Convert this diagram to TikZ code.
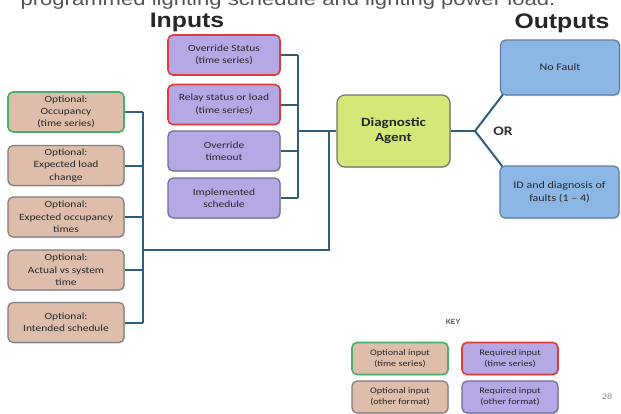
\documentclass[tikz,border=0pt]{standalone}
\usepackage{fontspec}
\setmainfont[FakeStretch=1.2]{Carlito}
\newfontfamily\headfont[FakeStretch=1.18]{Liberation Sans}
\usetikzlibrary{calc,shadows}
\definecolor{optfill}{RGB}{222,190,170}
\definecolor{reqfill}{RGB}{182,168,228}
\definecolor{agentfill}{RGB}{212,232,120}
\definecolor{outfill}{RGB}{140,182,228}
\definecolor{greyline}{RGB}{125,125,130}
\definecolor{greenline}{RGB}{70,175,110}
\definecolor{redline}{RGB}{222,60,60}
\definecolor{purpleline}{RGB}{110,110,150}
\definecolor{outline}{RGB}{95,125,165}
\definecolor{wire}{RGB}{45,95,125}
\definecolor{toptext}{RGB}{85,85,85}
\tikzset{
  boxbase/.style={rounded corners=5pt, align=center, inner sep=1pt,
    font=\fontsize{9.5}{12.3}\selectfont, text=black!85,
    drop shadow={shadow xshift=1pt, shadow yshift=-1pt, opacity=0.25}},
  optbox/.style={boxbase, fill=optfill, draw=greyline, line width=1.2pt,
    minimum width=116pt, minimum height=40pt},
  optts/.style={optbox, draw=greenline, line width=1.6pt},
  reqbox/.style={boxbase, fill=reqfill, draw=purpleline, line width=1.2pt,
    minimum width=112pt, minimum height=40pt},
  reqts/.style={reqbox, draw=redline, line width=1.6pt},
  keysize/.style={minimum width=96pt, minimum height=32pt, font=\fontsize{8.5}{11}\selectfont},
  keyopt/.style={optbox, keysize},
  keyoptts/.style={optts, keysize},
  keyreq/.style={reqbox, keysize},
  keyreqts/.style={reqts, keysize},
  outbox/.style={boxbase, fill=outfill, draw=outline, line width=1.2pt,
    minimum width=119pt, font=\fontsize{10}{13}\selectfont},
  wireline/.style={draw=wire, line width=2pt},
  heading/.style={font=\headfont\bfseries\fontsize{21}{23}\selectfont, text=black!85}
}
\begin{document}
\begin{tikzpicture}[x=1pt,y=-1pt]
\useasboundingbox (0,0) rectangle (621,413);
\begin{scope}
\clip (0,0) rectangle (621,413);
\node[font=\headfont\fontsize{18.7}{20}\selectfont, text=toptext, anchor=base] (toptitle) at (288,5) {programmed lighting schedule and lighting power load.};
\end{scope}
\node[heading, anchor=base] (inputs) at (187,27) {Inputs};
\node[heading, anchor=base] (outputs) at (562,28) {Outputs};

% optional inputs
\node[optts] (occ) at (66,112) {Optional:\\Occupancy\\(time series)};
\node[optbox] (load) at (66,165.5) {Optional:\\Expected load\\change};
\node[optbox] (occt) at (66,217) {Optional:\\Expected occupancy\\times};
\node[optbox] (act) at (66,270) {Optional:\\Actual vs system\\time};
\node[optbox] (intd) at (66,322.5) {Optional:\\Intended schedule};

% required inputs
\node[reqts] (ovs) at (224,55) {Override Status\\(time series)};
\node[reqts] (relay) at (224,104.5) {Relay status or load\\(time series)};
\node[reqbox] (ovt) at (224,151) {Override\\timeout};
\node[reqbox] (impl) at (224,198) {Implemented\\schedule};

% agent
\node[boxbase, fill=agentfill, draw=black!55, line width=1.2pt, rounded corners=8pt,
  minimum width=113pt, minimum height=72pt, font=\bfseries\fontsize{12.5}{15}\selectfont]
  (agent) at (393.5,131) {Diagnostic\\Agent};

% outputs
\node[outbox, minimum height=55pt] (nofault) at (560,67.5) {No Fault};
\node[outbox, minimum height=52pt] (diag) at (559.5,192) {ID and diagnosis of\\faults (1 -- 4)};
\node[font=\bfseries\fontsize{13}{15}\selectfont, text=black!80] (or) at (503,131) {OR};

% bus coordinates
\coordinate (lbusT) at (143,112);
\coordinate (lbusB) at (143,322.5);
\coordinate (lbusJ) at (143,250);
\coordinate (mJ) at (329,250);
\coordinate (mT) at (329,131);
\coordinate (rbusT) at (298,55);
\coordinate (rbusB) at (298,198);
\coordinate (rbusJ) at (298,131);
\coordinate (fork) at (475,131);

\foreach \n in {occ,load,occt,act,intd}{
  \draw[wireline] (\n.east) -- (\n.east -| lbusT);
}
\draw[wireline] (lbusT) -- (lbusB);
\draw[wireline] (lbusJ) -- (mJ) -- (mT);
\foreach \n in {ovs,relay,ovt,impl}{
  \draw[wireline] (\n.east) -- (\n.east -| rbusT);
}
\draw[wireline] (rbusT) -- (rbusB);
\draw[wireline] (rbusJ) -- (agent.west);
\draw[wireline] (agent.east) -- (fork);
\draw[wireline] (fork) -- ($(nofault.south west)+(3,-1)$);
\draw[wireline] (fork) -- ($(diag.north west)+(3,1)$);

% key
\node[font=\fontsize{8}{9}\selectfont, text=black!80] (key) at (453,322) {KEY};
\node[keyoptts] (k1) at (400,358.5) {Optional input\\(time series)};
\node[keyreqts] (k2) at (510,358.5) {Required input\\(time series)};
\node[keyopt] (k3) at (400,397) {Optional input\\(other format)};
\node[keyreq] (k4) at (510,397) {Required input\\(other format)};
\node[font=\fontsize{8.5}{9}\selectfont, text=black!45] (pg) at (607,397) {28};
\end{tikzpicture}
\end{document}
